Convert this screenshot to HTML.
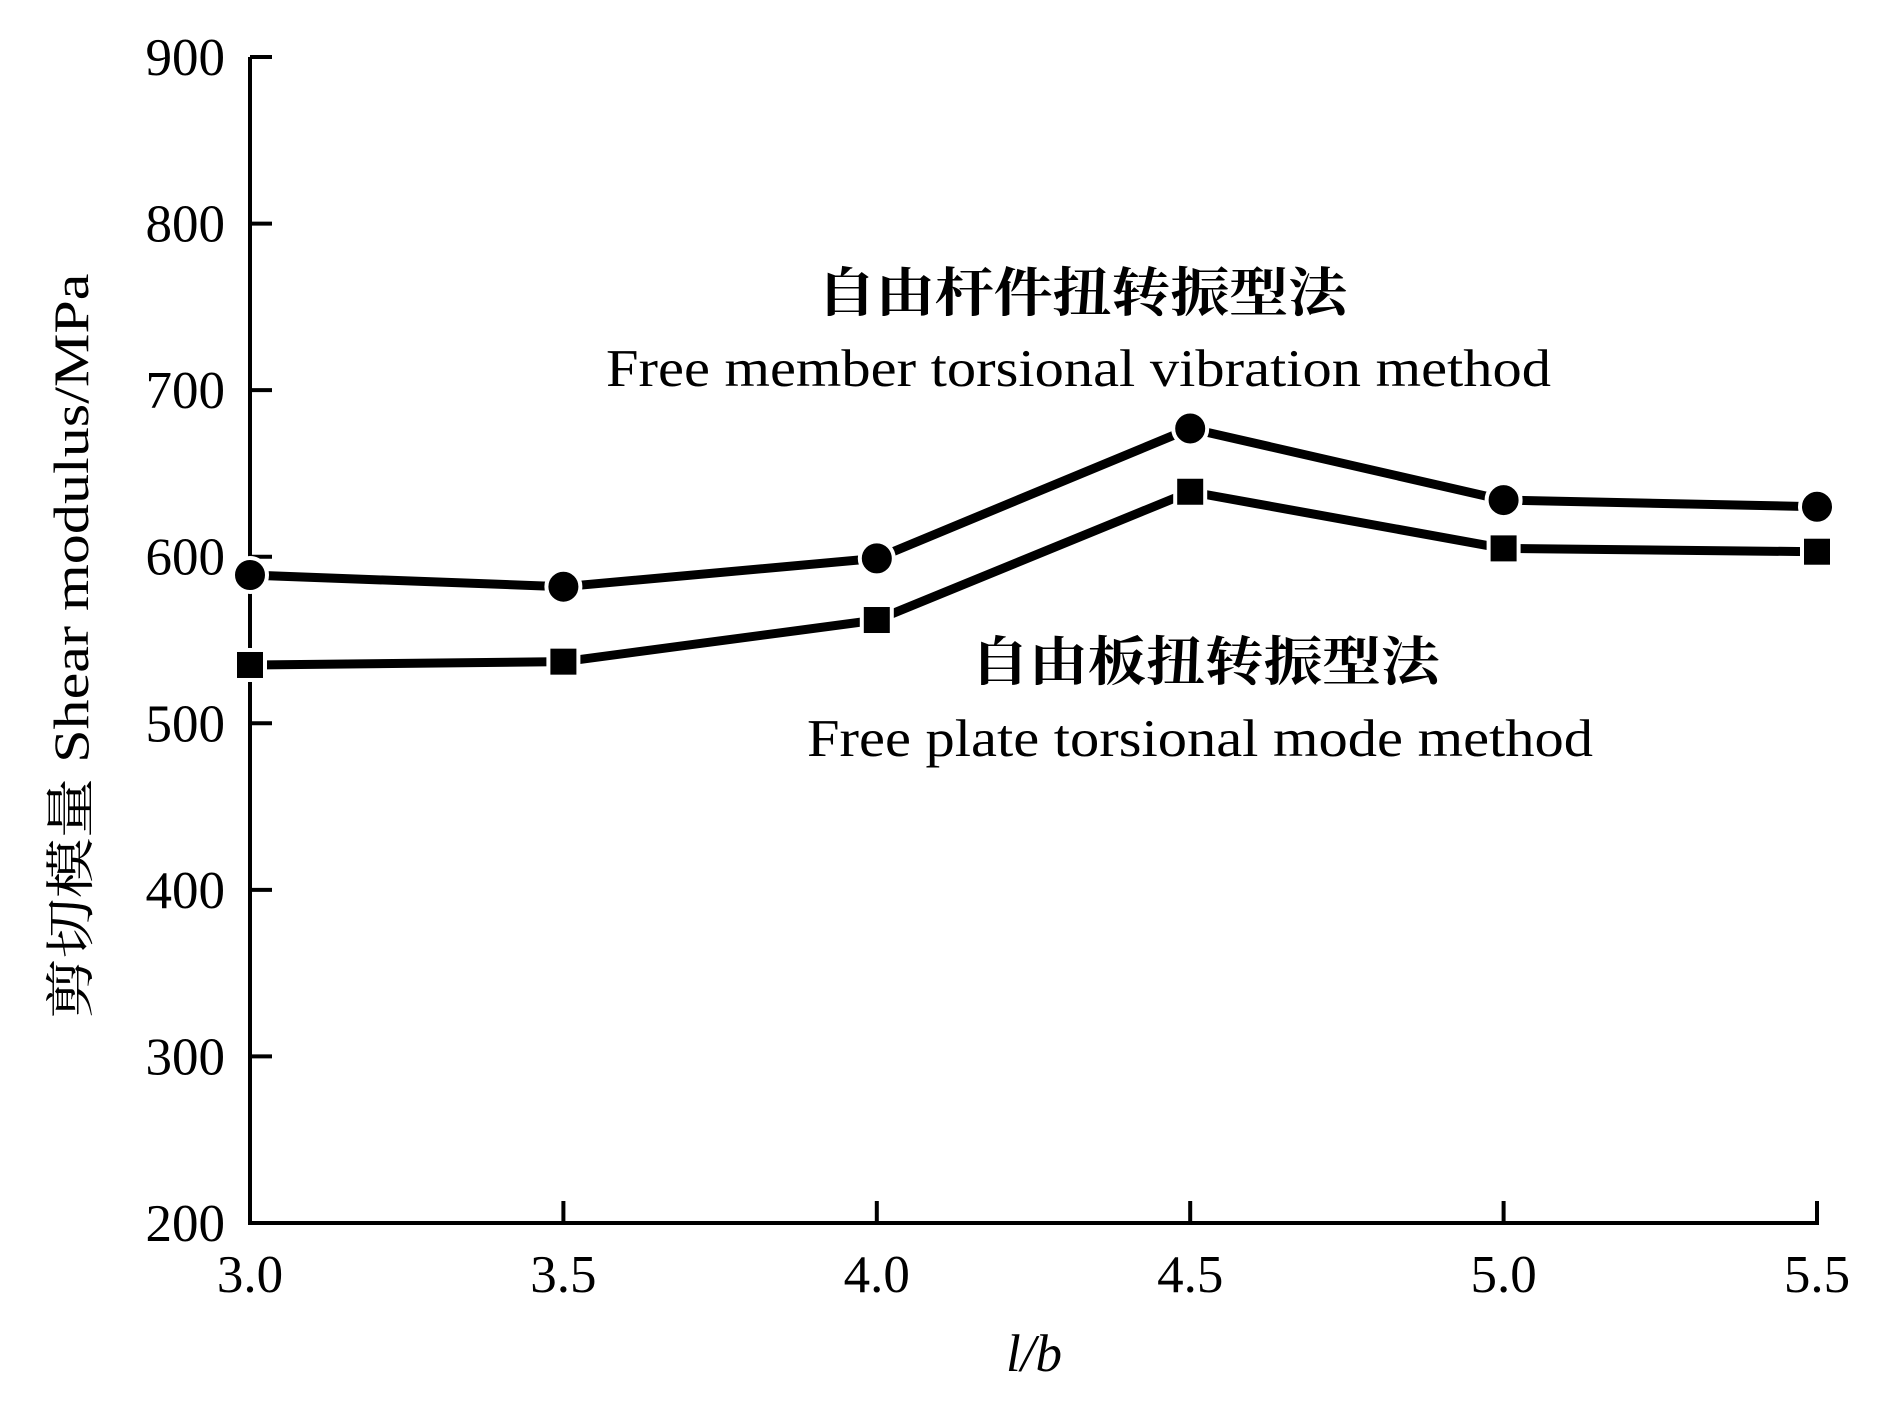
<!DOCTYPE html>
<html><head><meta charset="utf-8"><style>
html,body{margin:0;padding:0;background:#fff}
svg{display:block}
text{font-family:"Liberation Serif","Noto Serif CJK SC",serif;fill:#000}
</style></head><body>
<svg id="chart" width="1890" height="1404" viewBox="0 0 1890 1404">
<g id="axes"></g>
<g id="lines"></g>
<text x="1082" y="311" font-size="53" text-anchor="middle" style="font-family:'Noto Serif CJK SC','Noto Sans CJK SC',serif;font-weight:bold" textLength="530" lengthAdjust="spacingAndGlyphs">自由杆件扭转振型法</text>
<text x="606" y="386" font-size="53" textLength="945" lengthAdjust="spacingAndGlyphs">Free member torsional vibration method</text>
<text x="1205" y="680" font-size="53" text-anchor="middle" style="font-family:'Noto Serif CJK SC','Noto Sans CJK SC',serif;font-weight:bold" textLength="469" lengthAdjust="spacingAndGlyphs">自由板扭转振型法</text>
<text x="807" y="756" font-size="53" textLength="786" lengthAdjust="spacingAndGlyphs">Free plate torsional mode method</text>
<text transform="translate(88,646) rotate(-90)" font-size="50" text-anchor="middle" textLength="745" lengthAdjust="spacingAndGlyphs"><tspan style="font-family:'Noto Serif CJK SC','Noto Sans CJK SC',serif">剪切模量</tspan>  Shear modulus/MPa</text>
<text x="1034" y="1371" font-size="53" font-style="italic" text-anchor="middle">l/b</text>
</svg>
<script>
const xCats=[3.0,3.5,4.0,4.5,5.0,5.5];
const memberVals=[589,582,599,677,634,630];
const plateVals=[535,537,562,639,605,603];
const yTicks=[200,300,400,500,600,700,800,900];
const xTickLabels=["3.0","3.5","4.0","4.5","5.0","5.5"];
const NS="http://www.w3.org/2000/svg";
const X0=250,X1=1817,Y0=1223,Y1=57;
function sx(v){return X0+(v-3.0)/(5.5-3.0)*(X1-X0);}
function sy(v){return Y0-(v-200)/(900-200)*(Y0-Y1);}
function mk(tag,attrs,parent){const e=document.createElementNS(NS,tag);for(const k in attrs)e.setAttribute(k,attrs[k]);parent.appendChild(e);return e;}
const axes=document.getElementById('axes');
const ya=mk('line',{x1:X0,y1:Y1,x2:X0,y2:Y0,stroke:'#000','stroke-width':4},axes);


const xa=mk('line',{x1:X0-2,y1:Y0,x2:X1+2,y2:Y0,stroke:'#000','stroke-width':4},axes);


yTicks.forEach(v=>{
 const t=mk('line',{x1:X0,y1:sy(v),x2:X0+22,y2:sy(v),stroke:'#000','stroke-width':4},axes);
 
 
 const l=mk('text',{x:225,y:sy(v)+18,'font-size':53,'text-anchor':'end'},axes);
 
 
 l.textContent=v;
});
xCats.forEach((c,i)=>{
 const t=mk('line',{x1:sx(c),y1:Y0,x2:sx(c),y2:Y0-22,stroke:'#000','stroke-width':4},axes);
 
 
 const l=mk('text',{x:sx(c),y:1292,'font-size':53,'text-anchor':'middle'},axes);
 
 
 l.textContent=xTickLabels[i];
});
const lines=document.getElementById('lines');
function series(vals,shape,name){
 const pts=xCats.map((c,i)=>sx(c)+','+sy(vals[i])).join(' ');
 const pl=mk('polyline',{points:pts,fill:'none',stroke:'#000','stroke-width':9,'stroke-linejoin':'round'},lines);
 
 
 xCats.forEach((c,i)=>{
  let m;
  if(shape==='circle'){m=mk('circle',{cx:sx(c),cy:sy(vals[i]),r:17,fill:'#000',stroke:'#fff','stroke-width':4},lines);}
  else{m=mk('rect',{x:sx(c)-15,y:sy(vals[i])-15,width:30,height:30,fill:'#000',stroke:'#fff','stroke-width':4},lines);}
  
  
 });
}
series(memberVals,'circle','member-method');
series(plateVals,'square','plate-method');
</script>
</body></html>
